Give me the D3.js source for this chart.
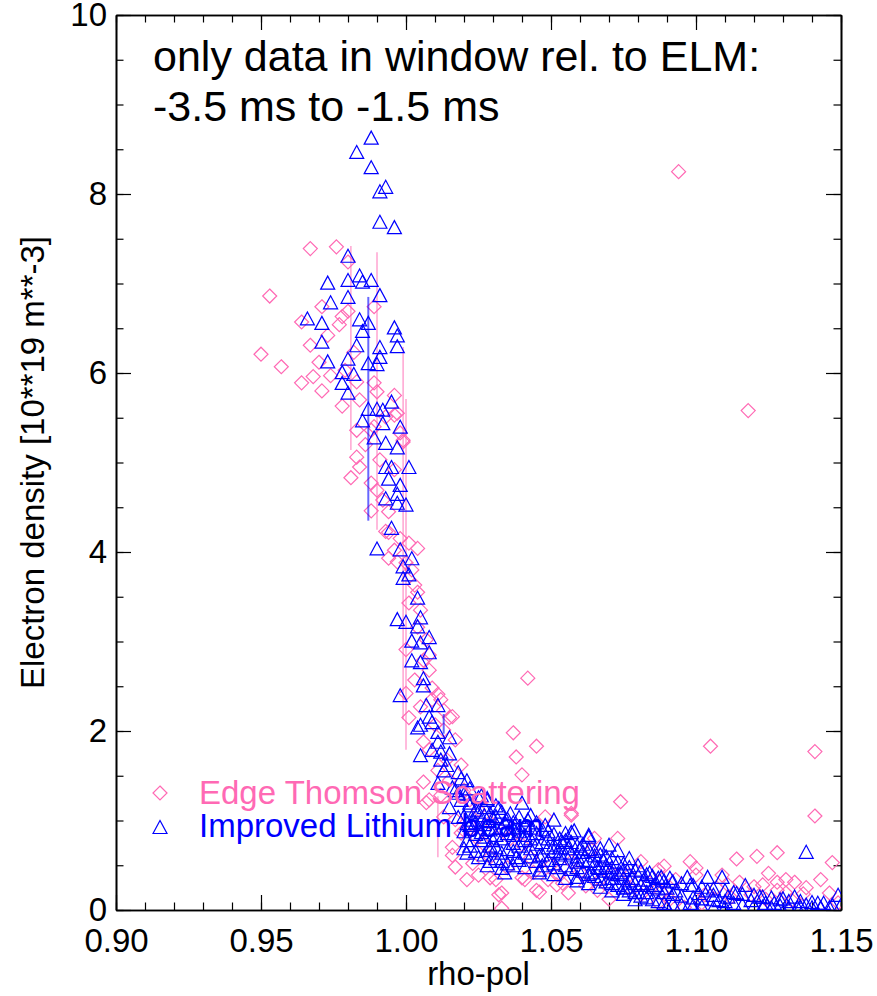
<!DOCTYPE html>
<html>
<head>
<meta charset="utf-8">
<script src="https://cdn.jsdelivr.net/npm/d3@7"></script>
<style>
  html, body { margin: 0; padding: 0; background: #ffffff; }
  svg { display: block; font-family: "Liberation Sans", Arial, Helvetica, sans-serif; }
</style>
</head>
<body>
<svg id="chart" width="877" height="996"></svg>
<script>
// Edge Thomson scattering profile: [rho-pol, n_e (10^19 m^-3)]
const thomsonPoints = [
  [0.950,6.21],[0.953,6.86],[0.957,6.07],[0.967,7.39],[0.976,7.41],[0.980,7.24],
  [0.971,6.74],[0.978,6.63],[0.964,6.57],[0.980,6.69],[0.989,6.74],[0.964,5.89],
  [0.968,5.96],[0.971,5.80],[0.974,5.97],[0.978,5.63],[0.983,5.90],[0.982,6.23],
  [0.989,5.89],[0.990,5.79],[0.989,5.40],[0.983,5.36],[0.988,5.36],[0.993,5.51],
  [0.996,5.53],[0.997,5.55],[0.999,5.25],[0.998,5.33],[0.999,5.23],[0.983,5.06],
  [0.984,4.95],[0.981,4.83],[0.988,4.77],[0.990,4.69],[0.988,4.46],[0.994,4.45],
  [0.993,4.23],[0.994,4.22],[0.998,4.15],[1.001,4.10],[1.004,4.04],[0.996,4.02],
  [0.994,3.93],[0.997,3.89],[1.000,3.88],[1.004,3.55],[1.001,3.43],[1.004,3.16],
  [1.000,2.91],[1.006,2.79],[1.000,2.42],[1.011,2.41],[1.005,2.27],[1.009,2.35],
  [1.016,2.16],[1.042,2.59],[1.037,1.98],[1.045,1.83],[1.038,1.71],[1.040,1.51],
  [1.074,1.21],[1.073,0.80],[1.057,1.08],[1.015,2.15],[1.001,2.15],[1.006,1.88],
  [1.006,1.43],[1.007,1.20],[1.008,1.23],[1.016,0.61],[1.017,0.48],[1.021,0.34],
  [1.031,0.34],[1.033,0.19],[1.033,0.02],[1.041,0.34],[1.046,0.20],[1.056,0.19],
  [1.049,0.34],[1.062,0.27],[1.071,0.41],[1.064,0.67],[1.057,0.54],[1.024,0.82],
  [1.029,0.59],[1.016,0.70],[1.019,0.86],[1.013,1.04],[1.048,1.04],[1.057,1.06],
  [1.032,0.17],[1.040,0.36],[1.045,0.22],[1.052,0.28],[1.029,0.36],[1.025,0.39],
  [1.094,8.25],[1.118,5.58],[1.105,1.83],[1.141,1.77],[1.141,1.05],[1.147,0.53],
  [1.114,0.57],[1.121,0.60],[1.128,0.64],[1.125,0.41],[1.098,0.54],[1.089,0.49],
  [1.081,0.54],[1.109,0.39],[1.115,0.31],[1.123,0.28],[1.128,0.31],[1.131,0.34],
  [1.134,0.31],[1.128,0.22],[1.131,0.19],[1.133,0.11],[1.146,0.19],[1.149,0.08],
  [1.100,0.47],[1.100,0.39],[1.087,0.45],[1.093,0.34],[1.065,0.80],[1.120,0.26],
  [1.111,0.28],[1.087,0.08],[1.096,0.03],
  [1.002,3.80],[1.003,3.63],[1.005,3.35],[1.007,3.02],[1.008,2.85],[1.008,2.68],
  [1.003,2.57],[1.009,2.48],[1.012,2.35],[1.013,2.23],[1.010,2.07],[1.013,2.01],
  [1.017,1.90],[1.008,1.79],[1.014,1.68],[1.019,1.62],[1.011,1.56],[1.015,1.45],
  [1.020,1.34],[1.012,1.28],[1.022,1.23],[1.025,1.12],[1.017,1.01],[1.029,0.98],
  [1.033,0.89],[1.036,0.80],[1.040,0.73],[1.020,0.89],[1.027,0.73],[1.043,0.58],
  [1.050,0.50],[1.053,0.39],[1.060,0.42],[1.067,0.34],[1.077,0.25],[1.081,0.17],
  [1.088,0.20],[1.103,0.17],[1.107,0.25],[1.119,0.17],[1.138,0.25],[1.143,0.34],
  [1.077,0.39],[0.984,5.70],[0.986,5.20],[0.991,5.03],[0.996,4.92],[0.992,4.58],
  [0.977,6.54],[0.973,6.42],[0.967,6.31],[0.970,6.12],[0.979,6.03],[0.996,5.75],
  [1.023,0.52],[1.035,0.47],[1.044,0.42],[1.054,0.30],[1.066,0.22],[1.070,0.12],
  [1.084,0.30],[1.091,0.12],[1.102,0.08],[1.112,0.14],[1.124,0.12],[1.137,0.18]
];

// Improved lithium beam profile: [rho-pol, n_e (10^19 m^-3)]
const lithiumPoints = [
  [0.983,8.47],[0.988,8.63],[0.988,8.30],[0.991,8.03],[0.993,8.08],[0.991,7.69],
  [0.996,7.63],[0.980,7.31],[0.973,7.01],[0.980,7.04],[0.984,7.09],[0.985,7.02],
  [0.988,7.04],[0.980,6.85],[0.974,6.79],[0.991,6.87],[0.966,6.61],[0.971,6.56],
  [0.984,6.60],[0.987,6.56],[0.985,6.47],[0.996,6.51],[0.997,6.42],[0.971,6.35],
  [0.983,6.31],[0.991,6.29],[0.997,6.30],[0.973,6.13],[0.980,6.16],[0.987,6.11],
  [0.991,6.18],[0.990,6.10],[0.978,6.01],[0.982,5.99],[0.978,5.89],[0.980,5.78],
  [0.987,5.60],[0.990,5.60],[0.992,5.59],[0.995,5.68],[0.985,5.47],[0.992,5.44],
  [0.998,5.40],[0.989,5.28],[0.993,5.22],[0.997,5.17],[0.993,4.95],[0.995,4.95],
  [1.001,4.95],[0.994,4.82],[0.998,4.75],[0.993,4.60],[0.997,4.65],[0.997,4.55],
  [1.000,4.53],[0.995,4.27],[0.990,4.04],[0.998,4.03],[1.002,3.93],[0.999,3.84],
  [1.001,3.75],[0.999,3.71],[1.004,3.49],[0.997,3.25],[1.000,3.22],[1.005,3.27],
  [1.004,3.17],[1.008,3.05],[1.002,3.01],[1.005,2.99],[1.008,2.88],[1.005,2.77],
  [1.002,2.79],[1.006,2.59],[1.006,2.51],[0.998,2.40],[1.007,2.29],[1.011,2.29],
  [1.008,2.16],[1.009,2.10],[1.005,2.07],[1.004,2.04],[1.011,1.99],[1.015,1.93],
  [1.011,1.88],[1.009,1.79],[1.012,1.77],[1.015,1.75],[1.005,1.73],[1.013,1.56],
  [1.018,1.54],[1.021,1.45],[1.011,1.42],[1.016,1.37],[1.018,1.31],[1.025,1.26],
  [1.028,1.25],[1.028,1.23],[1.015,1.15],[1.040,1.20],[1.032,1.14],[1.036,1.08],
  [1.043,1.06],[1.018,1.04],[1.051,1.01],[1.023,1.01],[1.021,0.97],[1.039,0.93],
  [1.026,0.87],[1.031,0.92],[1.045,0.86],[1.055,0.86],[1.057,0.87],[1.063,0.84],
  [1.058,0.89],[1.021,0.78],[1.026,0.78],[1.030,0.78],[1.037,0.75],[1.043,0.69],
  [1.054,0.76],[1.063,0.82],[1.060,0.69],[1.020,0.69],[1.025,0.59],[1.029,0.67],
  [1.033,0.64],[1.038,0.59],[1.046,0.61],[1.053,0.64],[1.059,0.54],[1.021,0.64],
  [1.028,0.50],[1.034,0.42],[1.046,0.45],[1.052,0.48],[1.059,0.37],[1.064,0.42],
  [1.033,0.47],[1.046,0.42],[1.066,0.48],[1.071,0.48],[1.071,0.36],[1.076,0.26],
  [1.067,0.69],[1.070,0.73],[1.073,0.67],[1.077,0.58],[1.080,0.50],[1.084,0.42],
  [1.088,0.37],[1.091,0.36],[1.097,0.37],[1.104,0.37],[1.109,0.37],[1.117,0.28],
  [1.098,0.28],[1.090,0.25],[1.083,0.20],[1.104,0.22],[1.114,0.19],[1.122,0.15],
  [1.130,0.13],[1.134,0.15],[1.138,0.65],[1.142,0.08],[1.149,0.17],[1.124,0.08],
  [1.108,0.11],[1.090,0.03],[1.098,0.08],[1.135,0.03],[1.146,0.03],[1.075,0.45],
  [1.068,0.56],
  [1.017,1.34],[1.019,1.23],[1.022,1.17],[1.025,1.10],[1.027,1.06],[1.030,1.03],
  [1.034,0.98],[1.037,0.92],[1.041,0.84],[1.049,0.80],[1.051,0.73],[1.056,0.69],
  [1.061,0.65],[1.065,0.61],[1.069,0.50],[1.074,0.42],[1.078,0.36],[1.082,0.34],
  [1.086,0.28],[1.093,0.22],[1.101,0.19],[1.106,0.17],[1.111,0.15],[1.119,0.11],
  [1.127,0.08],[1.138,0.06],[1.143,0.03],[1.150,0.06],
  [1.012,1.68],[1.014,1.62],[1.019,1.47],[1.022,1.36],[1.026,1.28],[1.031,1.17],
  [1.048,0.95],[1.042,1.01],
  [1.020,1.30],[1.020,1.05],[1.020,0.88],[1.022,1.20],[1.022,0.95],[1.022,0.72],
  [1.024,1.12],[1.024,0.98],[1.024,0.85],[1.024,0.66],[1.027,1.15],[1.027,0.96],
  [1.027,0.82],[1.027,0.62],[1.029,1.08],[1.029,0.90],[1.029,0.72],[1.029,0.55],
  [1.031,1.05],[1.031,0.84],[1.031,0.70],[1.031,0.58],[1.033,1.10],[1.033,0.92],
  [1.033,0.80],[1.033,0.55],[1.035,1.02],[1.035,0.86],[1.035,0.68],[1.035,0.52],
  [1.037,0.98],[1.037,0.84],[1.037,0.66],[1.037,0.50],[1.039,1.04],[1.039,0.88],
  [1.039,0.72],[1.039,0.56],[1.041,0.95],[1.041,0.78],[1.041,0.64],[1.041,0.48],
  [1.043,0.92],[1.043,0.80],[1.043,0.60],[1.045,0.98],[1.045,0.74],[1.045,0.55],
  [1.047,0.90],[1.047,0.76],[1.047,0.62],[1.047,0.50],[1.049,0.88],[1.049,0.70],
  [1.049,0.56],[1.051,0.85],[1.051,0.66],[1.051,0.52],[1.051,0.40],[1.053,0.80],
  [1.053,0.70],[1.053,0.58],[1.055,0.78],[1.055,0.62],[1.055,0.50],[1.055,0.36],
  [1.057,0.76],[1.057,0.64],[1.057,0.46],[1.059,0.72],[1.059,0.60],[1.059,0.48],
  [1.059,0.33],[1.061,0.74],[1.061,0.56],[1.061,0.44],[1.063,0.68],[1.063,0.55],
  [1.063,0.40],[1.063,0.30],[1.065,0.66],[1.065,0.52],[1.065,0.38],[1.067,0.62],
  [1.067,0.47],[1.067,0.35],[1.067,0.26],[1.069,0.60],[1.069,0.44],[1.069,0.32],
  [1.071,0.58],[1.071,0.42],[1.071,0.30],[1.071,0.22],[1.073,0.54],[1.073,0.40],
  [1.073,0.28],[1.075,0.52],[1.075,0.36],[1.075,0.25],[1.075,0.18],[1.077,0.48],
  [1.077,0.33],[1.077,0.22],[1.079,0.45],[1.079,0.30],[1.079,0.20],[1.079,0.12],
  [1.081,0.44],[1.081,0.28],[1.081,0.16],[1.083,0.40],[1.083,0.30],[1.083,0.14],
  [1.085,0.38],[1.085,0.26],[1.085,0.12],[1.087,0.36],[1.087,0.24],[1.087,0.10],
  [1.089,0.33],[1.089,0.20],[1.089,0.08],[1.092,0.32],[1.092,0.18],[1.092,0.07],
  [1.095,0.30],[1.095,0.16],[1.095,0.06],[1.099,0.28],[1.099,0.14],[1.099,0.05],
  [1.102,0.26],[1.102,0.13],[1.102,0.04],[1.106,0.24],[1.106,0.12],[1.106,0.03],
  [1.110,0.22],[1.110,0.10],[1.110,0.03],[1.113,0.20],[1.113,0.08],[1.116,0.18],
  [1.116,0.06],[1.120,0.17],[1.120,0.05],[1.123,0.15],[1.123,0.04],[1.126,0.14],
  [1.126,0.03],[1.129,0.12],[1.129,0.05],[1.132,0.10],[1.132,0.03],[1.136,0.10],
  [1.136,0.04],[1.140,0.09],[1.140,0.03],[1.144,0.08],[1.147,0.06]
];

// Error bars: [rho-pol, n_e, half-width]
const thomsonErrors = [
  [0.981,6.28,1.14],[0.990,5.80,1.55],[0.999,4.21,2.08],[1.000,3.75,1.96],[1.011,0.93,0.34]
];
const lithiumErrors = [
  [0.987,5.60,1.25],[1.013,2.08,0.11]
];

const xTicks = [0.90, 0.95, 1.00, 1.05, 1.10, 1.15];
const yTicks = [0, 2, 4, 6, 8, 10];
const xMinorTicks = d3.range(0, 26).map(i => +(0.90 + i * 0.01).toFixed(2));
const yMinorTicks = d3.range(0, 21).map(i => i * 0.5);

const titleLines = ["only data in window rel. to ELM:", "-3.5 ms to -1.5 ms"];
const xTitle = "rho-pol";
const yTitle = "Electron density [10**19 m**-3]";
const legendLabels = ["Edge Thomson Scattering", "Improved Lithium beam"];

const pink = "#ff69b4";
const blue = "#0000ff";

const svg = d3.select("#chart");
const W = 877, H = 996;
const plot = { left: 116, right: 841, top: 15, bottom: 910 };
const axisFont = 33;

const x = d3.scaleLinear().domain([0.90, 1.15]).range([plot.left, plot.right]);
const y = d3.scaleLinear().domain([0, 10]).range([plot.bottom, plot.top]);

svg.append("rect").attr("width", W).attr("height", H).attr("fill", "#fff");

svg.append("defs").append("clipPath").attr("id", "plotClip")
  .append("rect")
  .attr("x", plot.left).attr("y", plot.top)
  .attr("width", plot.right - plot.left).attr("height", plot.bottom - plot.top);

const diamondPath = "M0,-7L7,0L0,7L-7,0Z";
const trianglePath = "M-7,6.5L0,-6.5L7,6.5Z";

function styleAxis(g) {
  g.selectAll("path.domain").attr("stroke", "#000").attr("stroke-width", 1.6);
  g.selectAll(".tick line").attr("stroke", "#000").attr("stroke-width", 1.2);
  g.selectAll(".tick text").attr("fill", "#000").attr("font-size", axisFont)
    .attr("font-family", "'Liberation Sans', Arial, sans-serif");
}

const fmtX = d3.format(".2f");

// minor ticks on all four sides, pointing inward
svg.append("g").attr("transform", `translate(0,${plot.bottom})`)
  .call(d3.axisTop(x).tickValues(xMinorTicks).tickSize(7.5).tickFormat("").tickSizeOuter(0))
  .call(styleAxis);
svg.append("g").attr("transform", `translate(0,${plot.top})`)
  .call(d3.axisBottom(x).tickValues(xMinorTicks).tickSize(7.5).tickFormat("").tickSizeOuter(0))
  .call(styleAxis);
svg.append("g").attr("transform", `translate(${plot.left},0)`)
  .call(d3.axisRight(y).tickValues(yMinorTicks).tickSize(7.5).tickFormat("").tickSizeOuter(0))
  .call(styleAxis);
svg.append("g").attr("transform", `translate(${plot.right},0)`)
  .call(d3.axisLeft(y).tickValues(yMinorTicks).tickSize(7.5).tickFormat("").tickSizeOuter(0))
  .call(styleAxis);

// major ticks
svg.append("g").attr("transform", `translate(0,${plot.bottom})`)
  .call(d3.axisTop(x).tickValues(xTicks).tickSize(15).tickFormat("").tickSizeOuter(0))
  .call(styleAxis);
svg.append("g").attr("transform", `translate(0,${plot.top})`)
  .call(d3.axisBottom(x).tickValues(xTicks).tickSize(15).tickFormat("").tickSizeOuter(0))
  .call(styleAxis);
svg.append("g").attr("transform", `translate(${plot.left},0)`)
  .call(d3.axisRight(y).tickValues(yTicks).tickSize(15).tickFormat("").tickSizeOuter(0))
  .call(styleAxis);
svg.append("g").attr("transform", `translate(${plot.right},0)`)
  .call(d3.axisLeft(y).tickValues(yTicks).tickSize(15).tickFormat("").tickSizeOuter(0))
  .call(styleAxis);

// tick labels
svg.append("g").attr("transform", `translate(0,${plot.bottom})`)
  .call(d3.axisBottom(x).tickValues(xTicks).tickSize(0).tickPadding(19).tickFormat(fmtX))
  .call(styleAxis)
  .call(g => g.select("path.domain").remove());
svg.append("g").attr("transform", `translate(${plot.left},0)`)
  .call(d3.axisLeft(y).tickValues(yTicks).tickSize(0).tickPadding(9).tickFormat(d3.format("d")))
  .call(styleAxis)
  .call(g => g.select("path.domain").remove());

// axis titles
svg.append("text")
  .attr("x", (plot.left + plot.right) / 2).attr("y", 985)
  .attr("text-anchor", "middle").attr("font-size", axisFont).attr("fill", "#000")
  .text(xTitle);
svg.append("text")
  .attr("transform", `translate(44,${(plot.top + plot.bottom) / 2}) rotate(-90)`)
  .attr("text-anchor", "middle").attr("font-size", axisFont).attr("fill", "#000")
  .text(yTitle);

// annotation
svg.append("g").selectAll("text").data(titleLines).join("text")
  .attr("x", 153).attr("y", (d, i) => 71 + i * 50)
  .attr("font-size", 43).attr("fill", "#000")
  .text(d => d);

const body = svg.append("g").attr("clip-path", "url(#plotClip)");

// Thomson markers
body.append("g").selectAll("path").data(thomsonPoints).join("path")
  .attr("d", diamondPath)
  .attr("transform", d => `translate(${x(d[0])},${y(d[1])})`)
  .attr("fill", "none").attr("stroke", pink).attr("stroke-width", 1.2);

// legend
const legend = svg.append("g");
const legendRows = [
  { label: legendLabels[0], color: pink, path: diamondPath, my: 793, ty: 804 },
  { label: legendLabels[1], color: blue, path: trianglePath, my: 827, ty: 837 }
];
legendRows.forEach(r => {
  legend.append("path").attr("d", r.path)
    .attr("transform", `translate(160,${r.my})`)
    .attr("fill", "none").attr("stroke", r.color).attr("stroke-width", 1.2);
  legend.append("text").attr("x", 199).attr("y", r.ty)
    .attr("font-size", 33).attr("fill", r.color).text(r.label);
});

// Thomson error bars
body.append("g").selectAll("line").data(thomsonErrors).join("line")
  .attr("x1", d => x(d[0])).attr("x2", d => x(d[0]))
  .attr("y1", d => y(d[1] + d[2])).attr("y2", d => y(d[1] - d[2]))
  .attr("stroke", pink).attr("stroke-opacity", 0.7).attr("stroke-width", 1.3);

// lithium beam markers
body.append("g").selectAll("path").data(lithiumPoints).join("path")
  .attr("d", trianglePath)
  .attr("transform", d => `translate(${x(d[0])},${y(d[1])})`)
  .attr("fill", "none").attr("stroke", blue).attr("stroke-width", 1.2);

// lithium beam error bars
body.append("g").selectAll("line").data(lithiumErrors).join("line")
  .attr("x1", d => x(d[0])).attr("x2", d => x(d[0]))
  .attr("y1", d => y(d[1] + d[2])).attr("y2", d => y(d[1] - d[2]))
  .attr("stroke", blue).attr("stroke-opacity", 0.6).attr("stroke-width", 2);
</script>
</body>
</html>
